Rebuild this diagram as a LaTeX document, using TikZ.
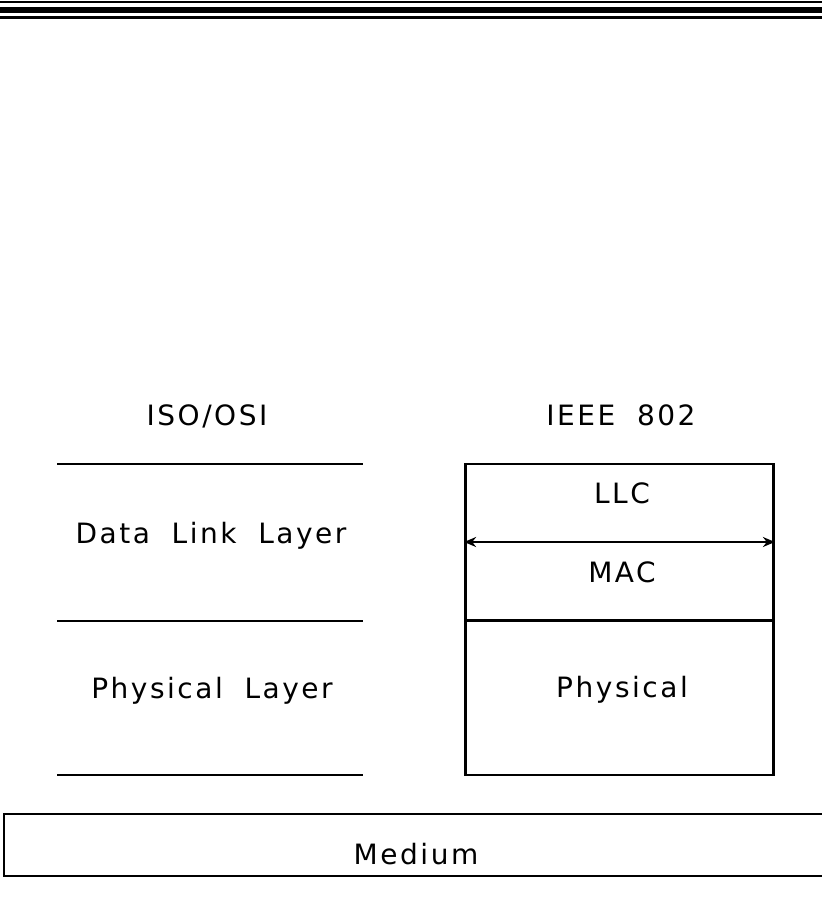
\documentclass[tikz,border=0pt]{standalone}
\usepackage{fontspec}
\setmainfont{DejaVu Sans}[LetterSpace=9,WordSpace=1.9]
\usetikzlibrary{arrows.meta}

\tikzset{
  layertext/.style={font=\fontsize{14}{16}\selectfont,inner sep=0pt,anchor=base},
  rule/.style={line width=1.4pt},
  layerbox/.style={draw,rule,minimum width=154pt,inner sep=0pt},
}

\begin{document}
\begin{tikzpicture}[x=0.5pt,y=-0.5pt,>={Stealth[length=6pt,width=5pt]}]
	\useasboundingbox (0,0) rectangle (822,900);
	% border at the top
	\draw[line width=1pt] (0,1.5) -- (822,1.5);
	\draw[line width=3pt] (0,10) -- (822,10);
	\draw[line width=1.5pt] (0,17) -- (822,17);
	% headings
	\node[layertext] (iso) at (207,425) {ISO/OSI};
	\node[layertext] (ieee) at (621,425) {IEEE 802};
	% ISO/OSI column
	\draw[rule] (57,464) -- (363,464);
	\draw[rule] (57,621) -- (363,621);
	\draw[rule] (57,775) -- (363,775);
	\node[layertext] (dll) at (211,543) {Data Link Layer};
	\node[layertext] (phl) at (212,698) {Physical Layer};
	% IEEE 802 column
	\node[layerbox,minimum height=78pt] (dl) at (619.5,542) {};
	\node[layerbox,minimum height=77pt] (ph) at (619.5,698) {};
	\draw[line width=1.2pt,<->] (dl.west) -- (dl.east);
	\node[layertext] (llc) at (622,503) {LLC};
	\node[layertext] (mac) at (622,582) {MAC};
	\node[layertext] (phy) at (622,697) {Physical};
	% medium
	\node[draw,rule,minimum width=415pt,minimum height=31pt,inner sep=0pt] (med) at (419,845) {};
	\node[layertext] (medium) at (416,864) {Medium};
\end{tikzpicture}
\end{document}
